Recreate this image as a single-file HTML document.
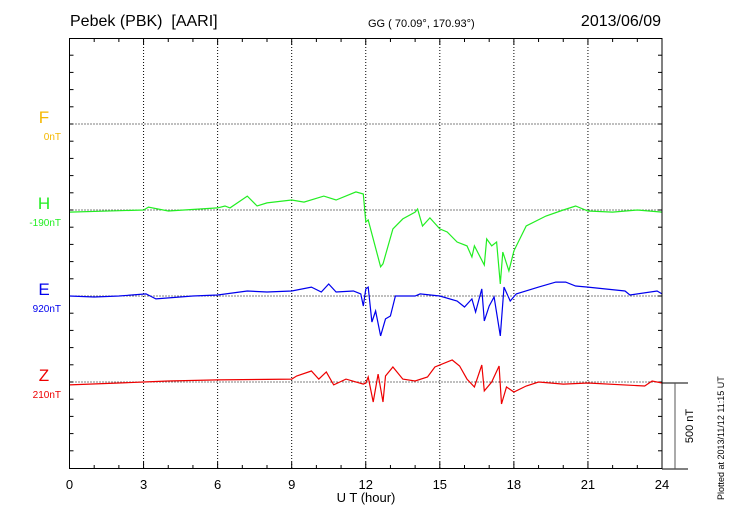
<!DOCTYPE html>
<html><head><meta charset="utf-8"><style>
body{margin:0;background:#fff;}
svg{display:block;font-family:"Liberation Sans",sans-serif;}
</style></head><body>
<svg id="c" width="730" height="520">
<text x="70" y="26" font-size="16" style="white-space:pre">Pebek (PBK)  [AARI]</text>
<text x="368" y="27" font-size="11">GG ( 70.09°, 170.93°)</text>
<text x="661" y="26" font-size="16" text-anchor="end">2013/06/09</text>
<g id="grid"></g>
<g id="series"></g>
<rect x="69.5" y="38.5" width="592.5" height="430" fill="none" stroke="#000" stroke-width="1"/>
<g id="labels"></g>
<line x1="662" y1="383" x2="688" y2="383" stroke="#000"/>
<line x1="662" y1="469" x2="688" y2="469" stroke="#000"/>
<line x1="675" y1="383" x2="675" y2="469" stroke="#555"/>
<text transform="translate(693,426) rotate(-90)" font-size="11" text-anchor="middle">500 nT</text>
<text transform="translate(724,500) rotate(-90)" font-size="9">Plotted at 2013/11/12 11:15 UT</text>
<text x="366" y="502" font-size="13" text-anchor="middle">U T (hour)</text>
</svg>
<script>
const xTicks=[0,3,6,9,12,15,18,21,24];
const hHours=[0,3,3.2,4,6,6.3,6.5,7.2,7.6,8,9,9.5,10.3,10.8,11.6,11.9,12.0,12.1,12.6,12.7,13.1,13.5,14.0,14.1,14.3,14.6,15.0,15.3,15.7,16.1,16.3,16.4,16.8,16.9,17.1,17.3,17.45,17.55,17.8,18.0,18.5,19.3,20.0,20.5,21,22,23,24];
const hValues=[-12,0,17,-6,12,23,12,81,23,41,58,46,81,58,105,93,-70,-58,-330,-313,-110,-52,-12,6,-93,-46,-110,-128,-186,-209,-273,-209,-320,-168,-209,-186,-430,-244,-354,-238,-93,-35,0,23,-6,-12,0,-12];
const eHours=[0,1,2,3.1,3.5,5,6,7.2,8,9,9.8,10.2,10.5,10.8,11.5,11.8,11.9,12.0,12.1,12.25,12.4,12.6,12.8,13.0,13.2,14,14.2,15,15.7,16,16.3,16.45,16.7,16.8,17.0,17.2,17.45,17.6,17.85,18.1,19,19.7,20.1,20.5,21,22.5,22.7,23.8,24];
const eValues=[0,-6,0,12,-17,0,6,29,23,29,52,23,70,23,29,12,-58,41,52,-151,-87,-232,-133,-116,0,0,12,0,-29,-64,-17,-93,41,-145,-58,-6,-232,52,-29,12,52,81,81,58,52,29,6,29,12];
const zHours=[0,2,3,4,6,9,9.2,9.8,10.1,10.4,10.7,11.2,11.9,12.0,12.1,12.3,12.5,12.7,12.8,13.1,13.5,14,14.5,14.8,15.5,15.8,16.1,16.4,16.7,16.8,17.1,17.4,17.5,17.7,18,18.5,19,20,21,23.3,23.6,24];
const zValues=[-17,-6,0,6,12,17,35,64,17,58,-17,17,-12,-6,29,-116,46,-116,35,87,17,6,29,87,128,93,17,-29,99,-52,0,93,-128,-29,-58,-23,0,-12,-6,-23,6,-6];
const compNames=["F","H","E","Z"];
const compBase=["0nT","-190nT","920nT","210nT"];
const compColors=["#f5b800","#22ee22","#0000ee","#ee0000"];

const NS="http://www.w3.org/2000/svg";
const X0=69.5,X1=662,TOP=38,PH=86;
const nTperPx=500/86;
function xs(h){return X0+(X1-X0)*h/24;}
function ys(i,v){return TOP+PH*(i+1)-v/nTperPx;}
function mk(tag,attrs,parent){const e=document.createElementNS(NS,tag);for(const k in attrs)e.setAttribute(k,attrs[k]);parent.appendChild(e);return e;}
const grid=document.getElementById('grid'),svg=document.getElementById('c');
for(const t of xTicks){
  const x=xs(t);
  if(t>0&&t<24){const l=mk('line',{x1:x,y1:TOP,x2:x,y2:469,stroke:'#000','stroke-dasharray':'1,2','stroke-width':1},grid);
  
  }
  const tx=mk('text',{x:x,y:489,'font-size':13,'text-anchor':'middle'},svg);
  tx.textContent=t;
  
  
}
for(let h=0;h<=24;h++){
  const x=xs(h),len=(h%3===0)?7:4;
  const a=mk('line',{x1:x,y1:TOP,x2:x,y2:TOP+len,stroke:'#000'},grid);
  
  
  const b=mk('line',{x1:x,y1:469,x2:x,y2:469-len,stroke:'#000'},grid);
  
  
}
for(let k=1;k<25;k++){
  const y=TOP+k*PH/5;
  const a=mk('line',{x1:X0,y1:y,x2:X0+4,y2:y,stroke:'#000'},grid);
  
  
  const b=mk('line',{x1:X1,y1:y,x2:X1-4,y2:y,stroke:'#000'},grid);
  
  
}
const labels=document.getElementById('labels');
for(let i=0;i<4;i++){
  const y=TOP+PH*(i+1);
  const l=mk('line',{x1:X0,y1:y,x2:X1,y2:y,stroke:'#000','stroke-dasharray':'1,2'},grid);
  
  
  const t=mk('text',{x:44,y:y-1,'font-size':17,'text-anchor':'middle',fill:compColors[i]},labels);
  t.textContent=compNames[i];
  
  
  const s=mk('text',{x:61,y:y+16,'font-size':10,'text-anchor':'end',fill:compColors[i]},labels);
  s.textContent=compBase[i];
  
  
}
const ser=document.getElementById('series');
function draw(hours,vals,i,name){
  const pts=hours.map((h,j)=>xs(h).toFixed(1)+','+ys(i,vals[j]).toFixed(1)).join(' ');
  const p=mk('polyline',{points:pts,fill:'none',stroke:compColors[i],'stroke-width':1.2},ser);
  
  
}
draw(hHours,hValues,1,'h-series');
draw(eHours,eValues,2,'e-series');
draw(zHours,zValues,3,'z-series');
</script>
</body></html>
